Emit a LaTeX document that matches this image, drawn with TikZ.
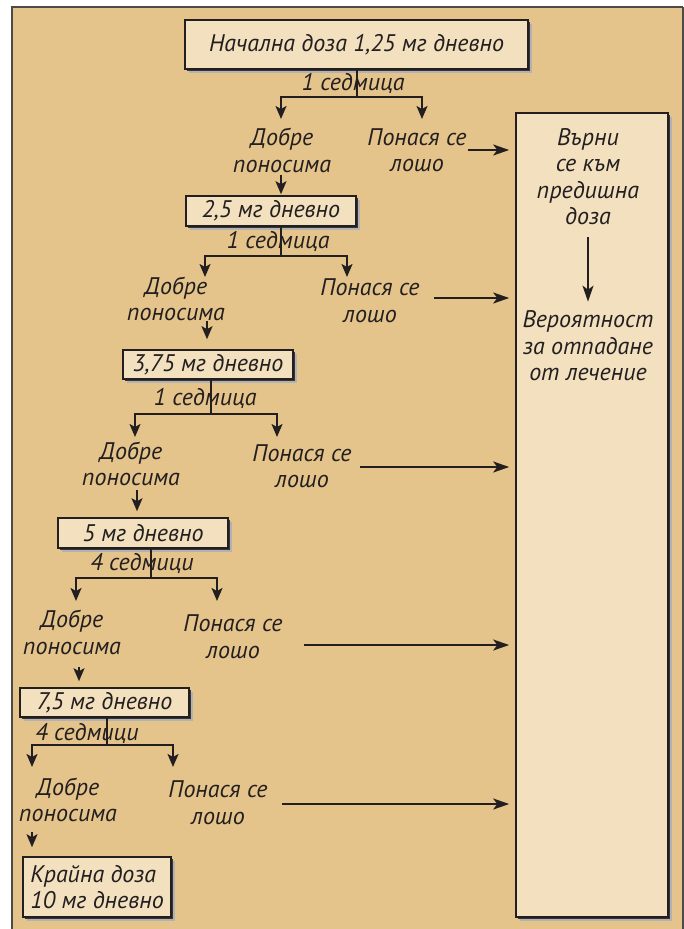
\documentclass[tikz,border=0pt]{standalone}
\usepackage{fontspec}
\setmainfont{PT Sans}
\usetikzlibrary{arrows.meta,shadows}

\definecolor{tan}{HTML}{E4C48B}
\definecolor{paper}{HTML}{F2E0BF}
\definecolor{ink}{HTML}{231F20}
\definecolor{frame}{HTML}{4D4A47}

\tikzset{
  txt/.style={text=ink, font=\fontsize{24}{26.5}\selectfont\itshape, align=center, inner sep=2pt},
  dose/.style={txt, draw=ink, line width=1.6pt, fill=paper,
    general shadow={fill=black!30, shadow xshift=3.5pt, shadow yshift=-3.5pt},
    general shadow={fill=ink!90, shadow xshift=1.5pt, shadow yshift=-1.5pt}},
  link/.style={draw=ink, line width=1.8pt},
  arr/.style={link, -{Stealth[length=13pt,width=11pt,inset=3pt]}},
  longarr/.style={link, -{Stealth[length=16pt,width=11pt,inset=4pt]}}
}

\begin{document}
\begin{tikzpicture}[x=1pt,y=-1pt]
  \useasboundingbox (0,0) rectangle (684,929);
  \fill [tan] (12,7) rectangle (684,929);
  \draw [frame, line width=2.5pt] (12,929) -- (12,7) -- (683,7);
  \draw [frame, line width=1.5pt] (683,7) -- (683,929);

  % dose boxes
  \node [dose, minimum width=343pt, minimum height=49pt] (b1) at (356.5,44.5) {Начална доза 1,25 мг дневно};
  \node [dose, minimum width=170pt, minimum height=30pt] (b2) at (271,211) {2,5 мг дневно};
  \node [dose, minimum width=170pt, minimum height=29pt] (b3) at (208,364.5) {3,75 мг дневно};
  \node [dose, minimum width=170pt, minimum height=30pt] (b4) at (143,533) {5 мг дневно};
  \node [dose, minimum width=169pt, minimum height=29pt] (b5) at (104.5,702.5) {7,5 мг дневно};
  \node [dose, align=left, minimum width=148pt, minimum height=60pt] (b6) at (97,887) {Крайна доза\\10 мг дневно};
  \node [dose, minimum width=152pt, minimum height=804pt] (rbox) at (592,515) {};

  % right column
  \node [txt] (back) at (588,176.5) {Върни\\се към\\предишна\\доза};
  \node [txt] (drop) at (588,346) {Вероятност\\за отпадане\\от лечение};
  \draw [longarr, shorten <=10pt, shorten >=7pt] (back.south) -- (drop.north);

  % level 1
  \coordinate (s1) at (357,97);
  \coordinate (l1) at (281,119);
  \coordinate (r1) at (422,119);
  \draw [link] (s1 |- b1.south) -- (s1);
  \draw [arr] (s1) -| (l1);
  \draw [arr] (s1) -| (r1);
  \node [txt] (w1) at (353,83) {1 седмица};
  \node [txt] (g1) at (282,150.5) {Добре\\поносима};
  \node [txt] (p1) at (417,150) {Понася се\\лошо};
  \coordinate (o1) at (468,150);
  \draw [longarr, shorten >=6pt] (o1) -- (o1 -| rbox.west);
  \coordinate (d1) at (281,175);
  \draw [arr, shorten >=1pt] (d1) -- (d1 |- b2.north);

  % level 2
  \coordinate (s2) at (281,256);
  \coordinate (l2) at (205,277);
  \coordinate (r2) at (347,277);
  \draw [link] (s2 |- b2.south) -- (s2);
  \draw [arr] (s2) -| (l2);
  \draw [arr] (s2) -| (r2);
  \node [txt] (w2) at (278,241) {1 седмица};
  \node [txt] (g2) at (176,299) {Добре\\поносима};
  \node [txt] (p2) at (370,300.5) {Понася се\\лошо};
  \coordinate (o2) at (434,298);
  \draw [longarr, shorten >=6pt] (o2) -- (o2 -| rbox.west);
  \coordinate (d2) at (207,321);
  \draw [arr, shorten >=10pt] (d2) -- (d2 |- b3.north);

  % level 3
  \coordinate (s3) at (211,414);
  \coordinate (l3) at (135,437);
  \coordinate (r3) at (277,437);
  \draw [link] (s3 |- b3.south) -- (s3);
  \draw [arr] (s3) -| (l3);
  \draw [arr] (s3) -| (r3);
  \node [txt] (w3) at (205,398) {1 седмица};
  \node [txt] (g3) at (131,464) {Добре\\поносима};
  \node [txt] (p3) at (302,466) {Понася се\\лошо};
  \coordinate (o3) at (360,467);
  \draw [longarr, shorten >=6pt] (o3) -- (o3 -| rbox.west);
  \coordinate (d3) at (137,490);
  \draw [arr, shorten >=6pt] (d3) -- (d3 |- b4.north);

  % level 4
  \coordinate (s4) at (151,578);
  \coordinate (l4) at (76,601);
  \coordinate (r4) at (217,601);
  \draw [link] (s4 |- b4.south) -- (s4);
  \draw [arr] (s4) -| (l4);
  \draw [arr] (s4) -| (r4);
  \node [txt] (w4) at (142,563) {4 седмици};
  \node [txt] (g4) at (72,632.5) {Добре\\поносима};
  \node [txt] (p4) at (233,636.5) {Понася се\\лошо};
  \coordinate (o4) at (304,645);
  \draw [longarr, shorten >=6pt] (o4) -- (o4 -| rbox.west);
  \coordinate (d4) at (79,667);
  \draw [arr, shorten >=6pt] (d4) -- (d4 |- b5.north);

  % level 5
  \coordinate (s5) at (107,745);
  \coordinate (l5) at (32,767);
  \coordinate (r5) at (173,767);
  \draw [link] (s5 |- b5.south) -- (s5);
  \draw [arr] (s5) -| (l5);
  \draw [arr] (s5) -| (r5);
  \node [txt] (w5) at (87,733) {4 седмици};
  \node [txt] (g5) at (68,800) {Добре\\поносима};
  \node [txt] (p5) at (218,802.5) {Понася се\\лошо};
  \coordinate (o5) at (282,804);
  \draw [longarr, shorten >=6pt] (o5) -- (o5 -| rbox.west);
  \coordinate (d5) at (32,832);
  \draw [arr, shorten >=9pt] (d5) -- (d5 |- b6.north);
\end{tikzpicture}
\end{document}
